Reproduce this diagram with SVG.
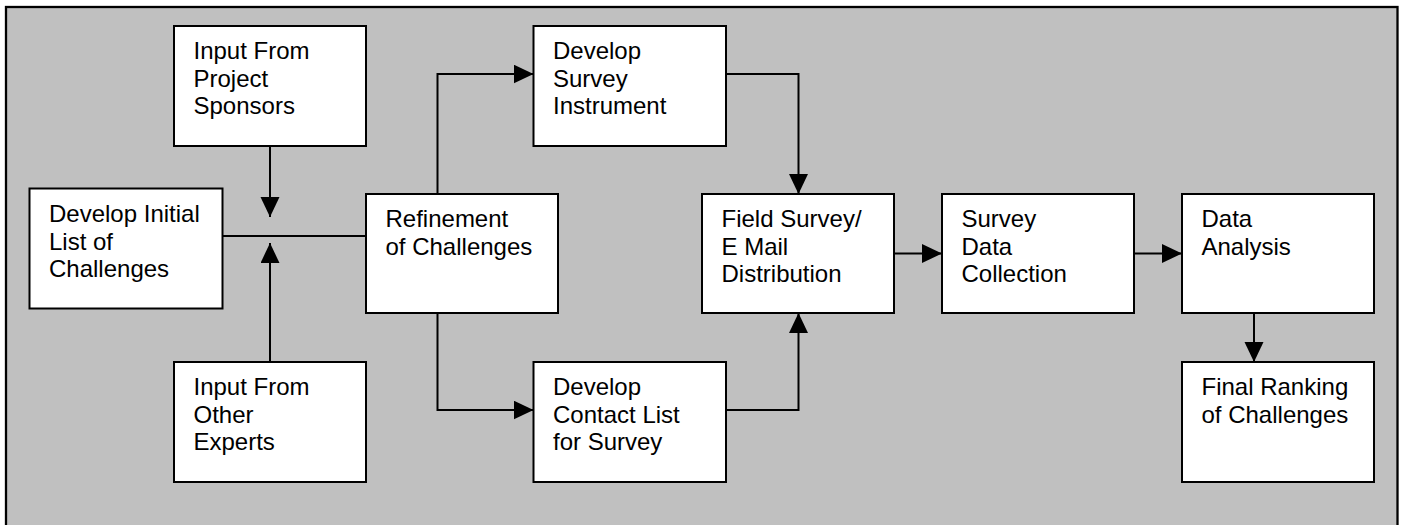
<svg xmlns="http://www.w3.org/2000/svg" width="1401" height="525" viewBox="0 0 1401 525">
<style>
.box{fill:#fff;stroke:#000;stroke-width:2}
.lbl{font-family:"Liberation Sans",Arial,sans-serif;font-size:24px;fill:#000}
.con{fill:none;stroke:#000;stroke-width:2}
</style>
<defs>
<marker id="ah" markerUnits="userSpaceOnUse" markerWidth="22" markerHeight="22" refX="20" refY="9.5" orient="auto" viewBox="0 0 22 22">
<path d="M0,0 L20,9.5 L0,19 Z" fill="#000"/>
</marker>
</defs>
<rect x="6" y="7" width="1391.5" height="530" fill="#C0C0C0" stroke="#000" stroke-width="2.3"/>
<g id="connectors">
<line class="con" x1="222.5" y1="236" x2="366" y2="236" stroke-width="1.6"/>
<path class="con" d="M270,146 V217" marker-end="url(#ah)"/>
<path class="con" d="M270,362 V243" marker-end="url(#ah)"/>
<path class="con" d="M437.5,194 V74 H533.5" marker-end="url(#ah)"/>
<path class="con" d="M437.5,313 V410 H533.5" marker-end="url(#ah)"/>
<path class="con" d="M726,74 H798.5 V194" marker-end="url(#ah)"/>
<path class="con" d="M726,410 H798.5 V313" marker-end="url(#ah)"/>
<path class="con" d="M894,253.5 H942" marker-end="url(#ah)"/>
<path class="con" d="M1134,253.5 H1182" marker-end="url(#ah)"/>
<path class="con" d="M1254,313 V362" marker-end="url(#ah)"/>
</g>
<g id="n-sponsors">
<rect class="box" x="174" y="26" width="192" height="120"/>
<text class="lbl"><tspan x="193.5" y="59">Input From</tspan><tspan x="193.5" y="86.5">Project</tspan><tspan x="193.5" y="114">Sponsors</tspan></text>
</g>
<g id="n-initial">
<rect class="box" x="29.5" y="188.5" width="193" height="120"/>
<text class="lbl"><tspan x="49" y="222">Develop Initial</tspan><tspan x="49" y="249.5">List of</tspan><tspan x="49" y="277">Challenges</tspan></text>
</g>
<g id="n-refinement">
<rect class="box" x="366" y="194" width="192" height="119"/>
<text class="lbl"><tspan x="385.5" y="227">Refinement</tspan><tspan x="385.5" y="254.5">of Challenges</tspan></text>
</g>
<g id="n-experts">
<rect class="box" x="174" y="362" width="192" height="120"/>
<text class="lbl"><tspan x="193.5" y="395">Input From</tspan><tspan x="193.5" y="422.5">Other</tspan><tspan x="193.5" y="450">Experts</tspan></text>
</g>
<g id="n-instrument">
<rect class="box" x="533.5" y="26" width="192.5" height="120"/>
<text class="lbl"><tspan x="553" y="59">Develop</tspan><tspan x="553" y="86.5">Survey</tspan><tspan x="553" y="114">Instrument</tspan></text>
</g>
<g id="n-contact">
<rect class="box" x="533.5" y="362" width="192.5" height="120"/>
<text class="lbl"><tspan x="553" y="395">Develop</tspan><tspan x="553" y="422.5">Contact List</tspan><tspan x="553" y="450">for Survey</tspan></text>
</g>
<g id="n-field">
<rect class="box" x="702" y="194" width="192" height="119"/>
<text class="lbl"><tspan x="721.5" y="227">Field Survey/</tspan><tspan x="721.5" y="254.5">E Mail</tspan><tspan x="721.5" y="282">Distribution</tspan></text>
</g>
<g id="n-collection">
<rect class="box" x="942" y="194" width="192" height="119"/>
<text class="lbl"><tspan x="961.5" y="227">Survey</tspan><tspan x="961.5" y="254.5">Data</tspan><tspan x="961.5" y="282">Collection</tspan></text>
</g>
<g id="n-analysis">
<rect class="box" x="1182" y="194" width="192" height="119"/>
<text class="lbl"><tspan x="1201.5" y="227">Data</tspan><tspan x="1201.5" y="254.5">Analysis</tspan></text>
</g>
<g id="n-ranking">
<rect class="box" x="1182" y="362" width="192" height="120"/>
<text class="lbl"><tspan x="1201.5" y="395">Final Ranking</tspan><tspan x="1201.5" y="422.5">of Challenges</tspan></text>
</g>
</svg>
